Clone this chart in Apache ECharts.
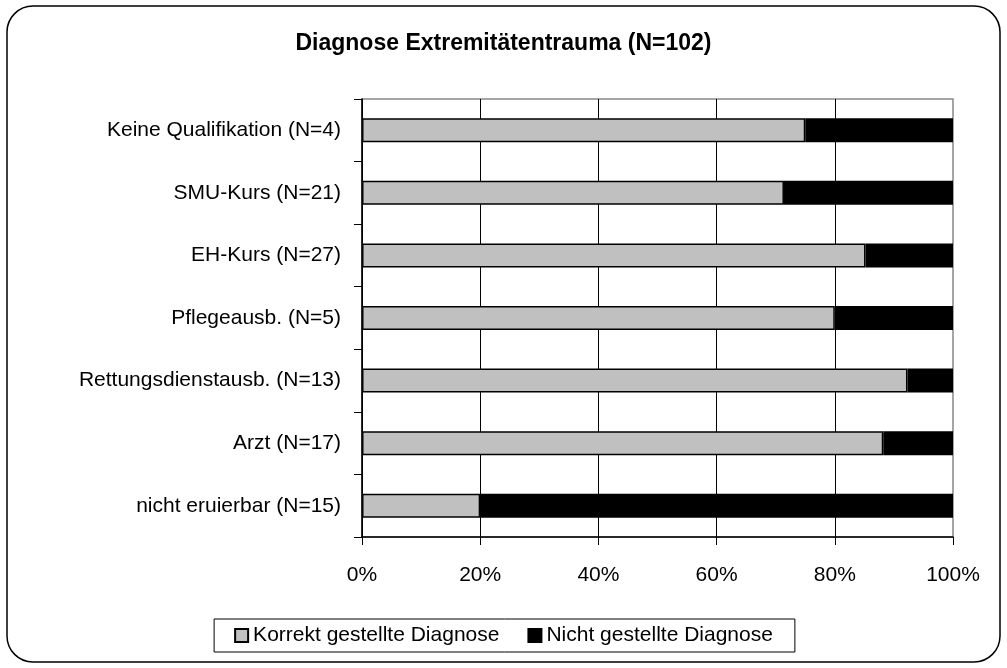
<!DOCTYPE html>
<html>
<head>
<meta charset="utf-8">
<script src="https://cdn.jsdelivr.net/npm/echarts@6/dist/echarts.min.js"></script>
<style>
html, body { margin: 0; padding: 0; background: #fff; }
#chart { width: 1007px; height: 668px; }
</style>
</head>
<body>
<div id="chart"></div>
<script>
var categories = ['Keine Qualifikation (N=4)', 'SMU-Kurs (N=21)', 'EH-Kurs (N=27)', 'Pflegeausb. (N=5)',
    'Rettungsdienstausb. (N=13)', 'Arzt (N=17)', 'nicht eruierbar (N=15)'];
// Anteile in Prozent
var korrekt = [75, 71.4, 85.2, 80, 92.3, 88.2, 20];
var nicht = [25, 28.6, 14.8, 20, 7.7, 11.8, 80];
var xTicks = ['0%', '20%', '40%', '60%', '80%', '100%'];

var font = 'Liberation Sans, Arial, sans-serif';

var chart = echarts.init(document.getElementById('chart'));
chart.setOption({
    animation: false,
    backgroundColor: '#fff',
    textStyle: { fontFamily: font },
    title: {
        text: 'Diagnose Extremitätentrauma (N=102)',
        left: 'center',
        top: 27,
        textStyle: { fontSize: 23, fontWeight: 'bold', color: '#000', fontFamily: font }
    },
    graphic: [{
        type: 'rect',
        shape: { x: 7, y: 6, width: 993, height: 656, r: 26 },
        style: { fill: null, stroke: '#000', lineWidth: 1.5 },
        silent: true
    }],
    legend: {
        bottom: 16,
        left: 'center',
        data: ['Korrekt gestellte Diagnose', 'Nicht gestellte Diagnose'],
        icon: 'rect',
        itemWidth: 13,
        itemHeight: 13,
        itemGap: 28,
        padding: [6, 22, 6, 20],
        borderColor: '#000',
        borderWidth: 1,
        textStyle: { fontSize: 21, color: '#000', fontFamily: font, padding: [0, 0, 0, 0] }
    },
    grid: {
        left: 362,
        right: 54,
        top: 99,
        bottom: 131,
        show: true,
        borderColor: '#888',
        borderWidth: 1.5
    },
    xAxis: {
        type: 'value',
        min: 0,
        max: 100,
        interval: 20,
        axisLine: { show: true, lineStyle: { color: '#000', width: 1.5 } },
        axisTick: { show: true, length: 8, lineStyle: { color: '#000' } },
        axisLabel: {
            margin: 28,
            fontSize: 21,
            color: '#000',
            fontFamily: font,
            formatter: function (v) { return xTicks[Math.round(v / 20)]; }
        },
        splitLine: { show: true, showMaxLine: false, lineStyle: { color: '#000', width: 1 } }
    },
    yAxis: {
        type: 'category',
        inverse: true,
        data: categories,
        axisLine: { show: true, lineStyle: { color: '#000', width: 1.5 } },
        axisTick: { show: true, length: 8, alignWithLabel: false, lineStyle: { color: '#000' } },
        axisLabel: { margin: 21, fontSize: 21, color: '#000', fontFamily: font }
    },
    series: [
        {
            name: 'Korrekt gestellte Diagnose',
            type: 'bar',
            stack: 'total',
            barWidth: 24,
            data: korrekt,
            itemStyle: { color: '#c0c0c0', borderColor: '#000', borderWidth: 1.5 }
        },
        {
            name: 'Nicht gestellte Diagnose',
            type: 'bar',
            stack: 'total',
            barWidth: 24,
            data: nicht,
            itemStyle: { color: '#000', borderColor: '#000', borderWidth: 1.5 }
        }
    ]
});
</script>
</body>
</html>
